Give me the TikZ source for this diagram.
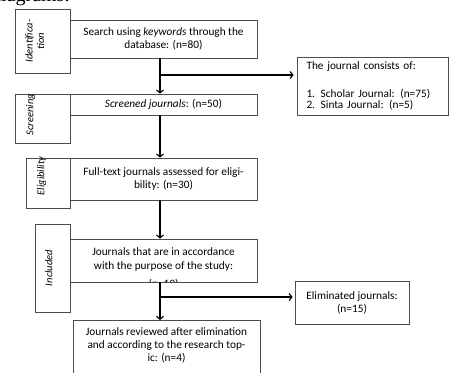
\documentclass[tikz,border=0pt]{standalone}
\usepackage{fontspec}
\setmainfont{Carlito}
\newfontfamily\headfont{Liberation Serif}
\usetikzlibrary{arrows.meta,calc}
\tikzset{
  stage/.style={draw=black!70, line width=0.7pt, minimum width=187pt, align=center, inner sep=3pt},
  phase/.style={draw=black!70, line width=0.7pt, inner sep=0pt},
  phaselbl/.style={rotate=90, font=\fontsize{10.5}{11.5}\selectfont\itshape, align=center, inner sep=0pt},
  note/.style={draw=black!70, line width=0.7pt, align=center, inner sep=3pt},
  arr/.style={black, line width=1.1pt, -{Straight Barb[length=3pt,width=7pt]}},
  lne/.style={black, line width=1.1pt}
}
\begin{document}
\begin{tikzpicture}[x=1pt,y=-1pt, every node/.append style={font=\fontsize{11.3}{13}\selectfont}]
                          \clip (0,0) rectangle (451,373);
                          \node[anchor=base west, font=\headfont\fontsize{20}{24}\selectfont, inner sep=0pt] (head) at (-9,1.5) {diagrams.};
                          % phase boxes on the left
                          \node[phase, minimum width=55pt, minimum height=64pt] (ident) at (42.5,41) {};
                          \node[phase, minimum width=55pt, minimum height=49pt] (screen) at (42.5,118.5) {};
                          \node[phase, minimum width=44pt, minimum height=50pt] (elig) at (48,183) {};
                          \node[phase, minimum width=35pt, minimum height=88pt] (incl) at (52.5,268) {};
                          \node[phaselbl] (identlbl) at ([xshift=20pt]ident.west) {Identifica-\\tion};
                          \node[phaselbl] (screenlbl) at ($(screen.west)+(16,-4)$) {Screening};
                          \node[phaselbl] (eliglbl) at ($(elig.west)+(16,-7)$) {Eligibility};
                          \node[phaselbl] (incllbl) at ([xshift=14pt]incl.west) {Included};
                          % main column
                          \node[stage, fill=white, minimum height=38pt] (search) at (163.5,39) {Search using \textit{keywords} through the\\database: (n=80)};
                          \node[stage, fill=white, minimum height=21pt] (screened) at (163.5,104.5) {\textit{Screened journals}: (n=50)};
                          \node[stage, fill=white, minimum height=42pt] (fulltext) at (163.5,179) {Full-text journals assessed for eligi-\\bility: (n=30)};
                          \node[stage, fill=white, minimum height=43pt,
                                path picture={\node[align=center, inner sep=0pt, anchor=north] at ([yshift=-7.5pt]path picture bounding box.north) {Journals that are in accordance\\[1.5pt]with the purpose of the study:\\[4.5pt](n=19)};}] (accord) at (163.5,260.5) {};
                          \node[stage, fill=white, anchor=north, inner ysep=7pt] (reviewed) at (166.5,320) {\parbox[c][52pt][t]{180pt}{\centering Journals reviewed after elimination\\and according to the research top-\\ic: (n=4)}};
                          % side notes
                          \node[note, minimum width=151pt, minimum height=58pt, text width=132pt, align=left] (consists) at (372.5,86) {The journal consists of:\\[15pt]1. Scholar Journal: (n=75)\\[-2.7pt]2. Sinta Journal: (n=5)};
                          \node[note, minimum width=114pt, minimum height=43pt] (elim) at (352,302.5) {Eliminated journals:\\(n=15)};
                          % connectors
                          \coordinate (col) at (160,0);
                          \coordinate (j1) at (160,75);
                          \coordinate (j2) at (160,297);
                          \draw[arr] (col |- search.south) -- (col |- screened.north);
                          \draw[arr] (j1) -- ([xshift=-3pt]j1 -| consists.west);
                          \draw[arr] (col |- screened.south) -- (col |- fulltext.north);
                          \draw[arr] (col |- fulltext.south) -- (col |- accord.north);
                          \draw[arr] (col |- accord.south) -- (col |- reviewed.north);
                          \draw[arr] (j2) -- ([xshift=-2pt]j2 -| elim.west);
                      \end{tikzpicture}
\end{document}
